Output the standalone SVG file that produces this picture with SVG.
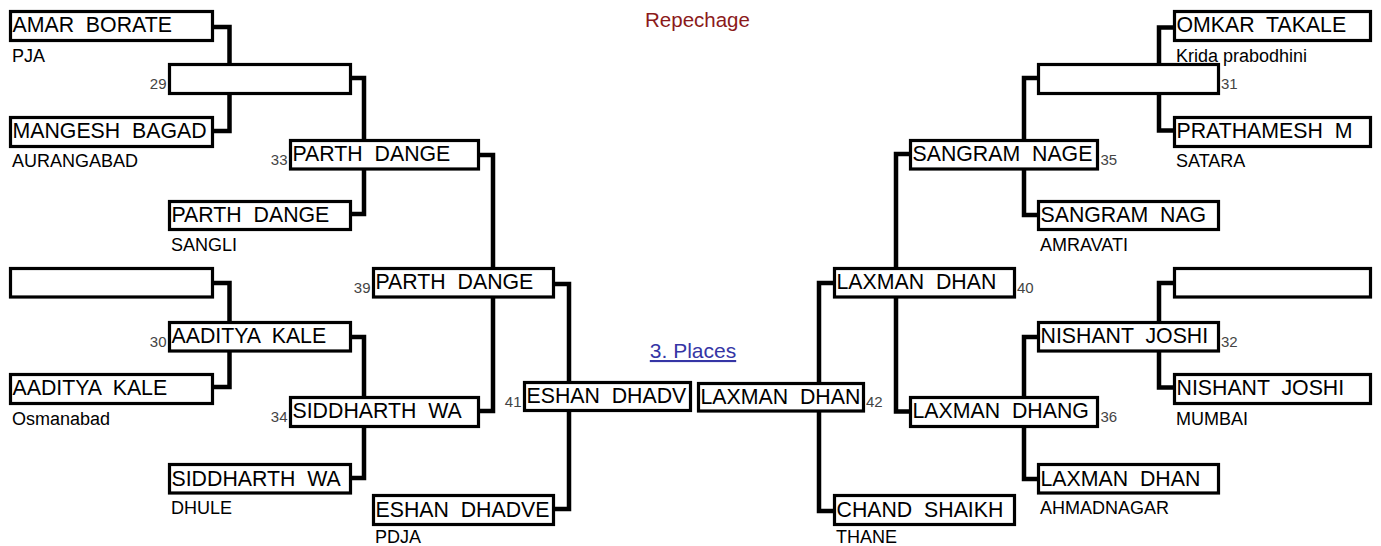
<svg xmlns="http://www.w3.org/2000/svg" width="1381" height="546" viewBox="0 0 1381 546">
<style>
.box{fill:#fff;stroke:#000;stroke-width:3.2}
text{font-family:"Liberation Sans",Arial,sans-serif;white-space:pre}
.name{font-size:21.3px;fill:#000}
.sub{font-size:18px;fill:#000}
.num{font-size:15px;fill:#444}
.numr{font-size:15px;fill:#444;text-anchor:end}
.conn{fill:none;stroke:#000;stroke-width:4.5;stroke-linejoin:miter}
</style>
<rect width="1381" height="546" fill="#fff"/>
<text x="697.5" y="26.5" text-anchor="middle" style="font-size:20.5px;fill:#8b1a1a">Repechage</text>
<text x="693" y="358" text-anchor="middle" text-decoration="underline" style="font-size:21px;fill:#3535a5">3. Places</text>
<g id="connectors">
<path class="conn" d="M214,27 H229.5 V131 H214"/>
<path class="conn" d="M214,283 H229.5 V387 H214"/>
<path class="conn" d="M351,78 H364 V214 H351"/>
<path class="conn" d="M351,337 H364 V478 H351"/>
<path class="conn" d="M480,155 H493 V411 H480"/>
<path class="conn" d="M555,284 H569 V509 H555"/>
<path class="conn" d="M1173,27.5 H1159 V130.5 H1173"/>
<path class="conn" d="M1173,283 H1159 V387.5 H1173"/>
<path class="conn" d="M1037,78 H1024 V215 H1037"/>
<path class="conn" d="M1037,337 H1024 V479 H1037"/>
<path class="conn" d="M909,154 H896 V411.5 H909"/>
<path class="conn" d="M833,283 H819 V511 H833"/>
</g>
<g id="n-amar"><rect class="box" x="10.5" y="11.5" width="202" height="29"/><text class="name" x="12.5" y="32">AMAR  BORATE</text><text class="sub" x="12" y="62">PJA</text></g>
<g id="n-mangesh"><rect class="box" x="10.5" y="117.5" width="202" height="29"/><text class="name" x="12.5" y="138">MANGESH  BAGAD</text><text class="sub" x="12" y="167">AURANGABAD</text></g>
<g id="n-empty-l"><rect class="box" x="10.5" y="268.5" width="202" height="28.5"/></g>
<g id="n-aaditya"><rect class="box" x="10.5" y="374.5" width="202" height="29"/><text class="name" x="12.5" y="395">AADITYA  KALE</text><text class="sub" x="12" y="425">Osmanabad</text></g>
<g id="n-29"><rect class="box" x="169.5" y="64.5" width="181" height="29"/><text class="numr" x="166.5" y="88.5">29</text></g>
<g id="n-parth-sangli"><rect class="box" x="169.5" y="201.5" width="181" height="28"/><text class="name" x="171.5" y="222">PARTH  DANGE</text><text class="sub" x="171" y="251">SANGLI</text></g>
<g id="n-30"><rect class="box" x="169.5" y="322.5" width="181" height="28.5"/><text class="name" x="171.5" y="343">AADITYA  KALE</text><text class="numr" x="166.5" y="346.5">30</text></g>
<g id="n-siddharth-dhule"><rect class="box" x="169.5" y="464.5" width="181" height="28.5"/><text class="name" x="171.5" y="486">SIDDHARTH  WA</text><text class="sub" x="171" y="514">DHULE</text></g>
<g id="n-33"><rect class="box" x="290.5" y="140.5" width="188" height="28.5"/><text class="name" x="292.5" y="161">PARTH  DANGE</text><text class="numr" x="287.5" y="164.5">33</text></g>
<g id="n-34"><rect class="box" x="290.5" y="397.5" width="188" height="29"/><text class="name" x="292.5" y="418">SIDDHARTH  WA</text><text class="numr" x="287.5" y="421.5">34</text></g>
<g id="n-39"><rect class="box" x="373.5" y="268.5" width="180" height="28.5"/><text class="name" x="375.5" y="289">PARTH  DANGE</text><text class="numr" x="370.5" y="292.5">39</text></g>
<g id="n-eshan-pdja"><rect class="box" x="373.5" y="495.5" width="180" height="29"/><text class="name" x="375.5" y="517">ESHAN  DHADVE</text><text class="sub" x="375" y="543">PDJA</text></g>
<g id="n-41"><rect class="box" x="524.5" y="382.5" width="166" height="28"/><text class="name" x="526.5" y="403">ESHAN  DHADV</text><text class="numr" x="521.5" y="406.5">41</text></g>
<g id="n-42"><rect class="box" x="698.5" y="383.5" width="165" height="27.5"/><text class="name" x="700.5" y="404">LAXMAN  DHAN</text><text class="num" x="866" y="407">42</text></g>
<g id="n-40"><rect class="box" x="834.5" y="268.5" width="180" height="28.5"/><text class="name" x="836.5" y="289">LAXMAN  DHAN</text><text class="num" x="1017" y="292.5">40</text></g>
<g id="n-chand"><rect class="box" x="834.5" y="495.5" width="180" height="29"/><text class="name" x="836.5" y="517">CHAND  SHAIKH</text><text class="sub" x="836" y="543">THANE</text></g>
<g id="n-35"><rect class="box" x="910.5" y="140.5" width="187" height="28.5"/><text class="name" x="912.5" y="161">SANGRAM  NAGE</text><text class="num" x="1100.5" y="164.5">35</text></g>
<g id="n-36"><rect class="box" x="910.5" y="397.5" width="187" height="29"/><text class="name" x="912.5" y="418">LAXMAN  DHANG</text><text class="num" x="1100.5" y="421.5">36</text></g>
<g id="n-31"><rect class="box" x="1038.5" y="64.5" width="180" height="29"/><text class="num" x="1221" y="88.5">31</text></g>
<g id="n-sangram-amravati"><rect class="box" x="1038.5" y="201.5" width="180" height="28"/><text class="name" x="1040.5" y="222">SANGRAM  NAG</text><text class="sub" x="1040" y="251">AMRAVATI</text></g>
<g id="n-32"><rect class="box" x="1038.5" y="322.5" width="180" height="28.5"/><text class="name" x="1040.5" y="343">NISHANT  JOSHI</text><text class="num" x="1221" y="346.5">32</text></g>
<g id="n-laxman-ahmadnagar"><rect class="box" x="1038.5" y="464.5" width="180" height="28.5"/><text class="name" x="1040.5" y="486">LAXMAN  DHAN</text><text class="sub" x="1040" y="514">AHMADNAGAR</text></g>
<g id="n-omkar"><rect class="box" x="1174.5" y="11.5" width="196" height="29"/><text class="name" x="1176.5" y="32">OMKAR  TAKALE</text><text class="sub" x="1176" y="62">Krida prabodhini</text></g>
<g id="n-prathamesh"><rect class="box" x="1174.5" y="117.5" width="196" height="29"/><text class="name" x="1176.5" y="138">PRATHAMESH  M</text><text class="sub" x="1176" y="167">SATARA</text></g>
<g id="n-empty-r"><rect class="box" x="1174.5" y="268.5" width="196" height="28.5"/></g>
<g id="n-nishant-mumbai"><rect class="box" x="1174.5" y="374.5" width="196" height="29"/><text class="name" x="1176.5" y="395">NISHANT  JOSHI</text><text class="sub" x="1176" y="425">MUMBAI</text></g>
</svg>
